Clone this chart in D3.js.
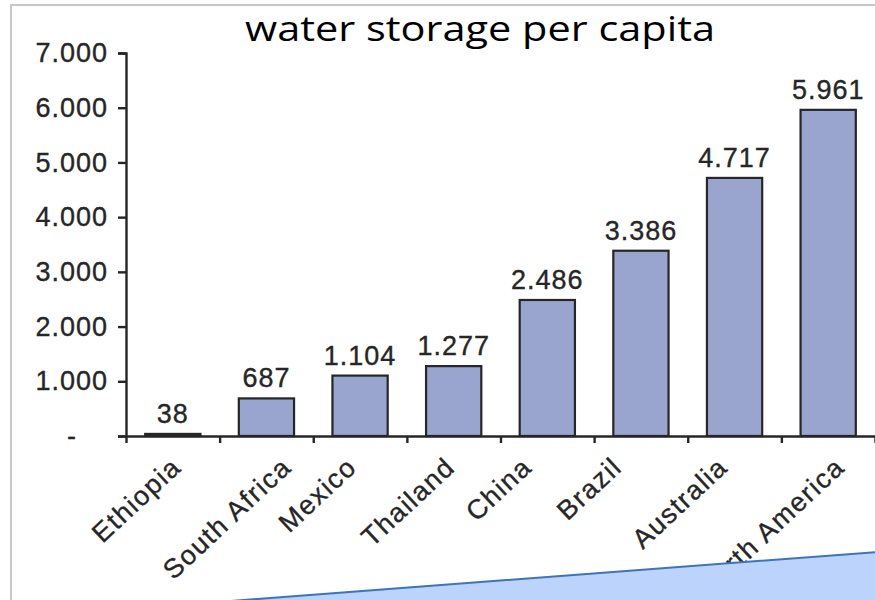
<!DOCTYPE html>
<html lang="en">
<head>
<meta charset="UTF-8">
<title>water storage per capita</title>
<script src="https://d3js.org/d3.v7.min.js"></script>
<style>
    body { margin: 0; background: #fff; }
    .tick text, .val, .cat {
        font-family: "Liberation Sans", Arial, sans-serif;
        fill: #262626;
        stroke: #262626;
        stroke-width: 0.35px;
    }
</style>
</head>
<body>
<div id="chart"></div>
<script>
    const categories = ['Ethiopia', 'South Africa', 'Mexico', 'Thailand', 'China', 'Brazil', 'Australia', 'North America'];
    const storage = [38, 687, 1104, 1277, 2486, 3386, 4717, 5961];
    const yTicks = [0, 1000, 2000, 3000, 4000, 5000, 6000, 7000];

    const width = 875;
    const height = 600;

    const svg = d3.select('#chart').append('svg')
        .attr('width', width)
        .attr('height', height);

    svg.append('rect').attr('width', width).attr('height', height).attr('fill', '#fff');

    // slide frame
    svg.append('path')
        .attr('d', `M11,${height} L11,5 L${width},5`)
        .attr('fill', 'none')
        .attr('stroke', '#c8c8c8')
        .attr('stroke-width', 2);

    const locale = d3.formatLocale({ decimal: ',', thousands: '.', grouping: [3], currency: ['', ''] });
    const fmt = locale.format(',d');

    const plotLeft = 126, plotRight = 875, plotTop = 53, plotBottom = 436;

    const y = d3.scaleLinear().domain([0, 7000]).range([plotBottom, plotTop]);
    const x = d3.scaleBand().domain(categories).range([plotLeft, plotRight]);
    // category boundaries for the tick marks
    const xEdge = d3.scaleLinear().domain([0, categories.length]).range([plotLeft, plotRight]);
    // rotated labels sit a little left of the bars in the original
    const xLabel = d3.scalePoint().domain(categories).range([136, 770]);

    const barW = x.bandwidth() * 0.59;

    svg.selectAll('.bar')
        .data(storage)
        .enter().append('rect')
        .attr('class', 'bar')
        .attr('x', (d, i) => x(categories[i]) + (x.bandwidth() - barW) / 2)
        .attr('y', d => y(d))
        .attr('width', barW)
        .attr('height', d => y(0) - y(d))
        .attr('fill', '#99a5cf')
        .attr('stroke', '#262626')
        .attr('stroke-width', 2.2);

    // y axis
    const yAxis = svg.append('g')
        .attr('transform', `translate(${plotLeft},0)`)
        .call(d3.axisLeft(y).tickValues(yTicks).tickSize(8).tickPadding(10)
            .tickFormat(d => d === 0 ? '-' : fmt(d)));
    yAxis.selectAll('text').attr('font-size', 27).attr('letter-spacing', 1);
    yAxis.selectAll('.tick').filter(d => d === 0).select('text')
        .attr('text-anchor', 'middle').attr('x', -54);
    yAxis.selectAll('line, path').attr('stroke', '#262626').attr('stroke-width', 2.4);

    // x axis
    const xAxis = svg.append('g')
        .attr('transform', `translate(0,${plotBottom})`)
        .call(d3.axisBottom(xEdge).ticks(categories.length).tickSize(7).tickSizeOuter(0).tickFormat(''));
    xAxis.selectAll('line, path').attr('stroke', '#262626').attr('stroke-width', 2.4);

    // value labels
    svg.selectAll('.val')
        .data(storage)
        .enter().append('text')
        .attr('class', 'val')
        .attr('x', (d, i) => x(categories[i]) + x.bandwidth() / 2)
        .attr('y', d => y(d) - 11)
        .attr('text-anchor', 'middle')
        .attr('font-size', 27)
        .attr('letter-spacing', 1)
        .text(d => fmt(d));

    // category labels: centred under their slot, top of the rotated box just below the axis
    const angle = 43;
    const rad = angle * Math.PI / 180;
    const labelSize = 27;
    const cats = svg.selectAll('.cat')
        .data(categories)
        .enter().append('text')
        .attr('class', 'cat')
        .attr('text-anchor', 'middle')
        .attr('dy', '0.36em')
        .attr('font-size', labelSize)
        .attr('letter-spacing', 1.5)
        .text(d => d);
    cats.attr('transform', function(d) {
        const w = this.getComputedTextLength();
        const halfH = (w / 2) * Math.sin(rad) + (labelSize * 0.36) * Math.cos(rad);
        return `translate(${xLabel(d)},${plotBottom + 19 + halfH}) rotate(${-angle})`;
    });

    // title
    svg.append('text')
        .attr('x', 245)
        .attr('y', 41)
        .attr('textLength', 470)
        .attr('lengthAdjust', 'spacingAndGlyphs')
        .attr('font-family', '"Open Sans", sans-serif')
        .attr('font-size', 34)
        .attr('fill', '#000')
        .text('water storage per capita');

    // overlapping shape from the slide
    svg.append('path')
        .attr('d', `M218,${height + 2} L${width + 2},552 L${width + 2},${height + 2} Z`)
        .attr('fill', '#bcd3fb')
        .attr('stroke', '#3e73bd')
        .attr('stroke-width', 2);
</script>
</body>
</html>
